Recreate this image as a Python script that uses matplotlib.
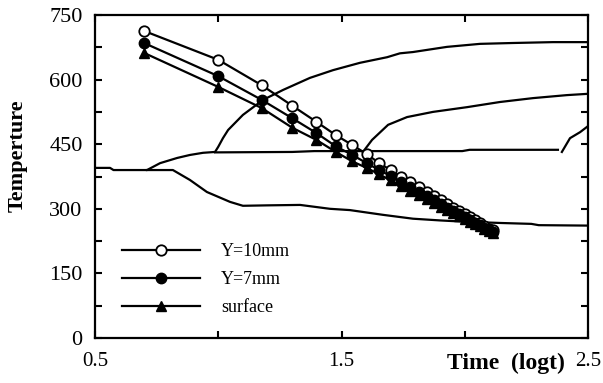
import math
import matplotlib
matplotlib.use("Agg")
import matplotlib.pyplot as plt
from matplotlib.ticker import MultipleLocator

plt.rcParams['font.family'] = ['Liberation Serif', 'DejaVu Serif']

# time samples (s) of the measured series, plotted as log10(t)
times = [5, 10, 15, 20, 25, 30, 35, 40, 45, 50, 55, 60, 65,
         70, 75, 80, 85, 90, 95, 100, 105, 110, 115, 120, 125, 130]
y10mm = [713, 646, 587, 539, 502, 471, 448, 427, 406, 390, 374, 362, 351,
         340, 330, 320, 311, 302, 294, 287, 280, 273, 266, 260, 254, 250]
y7mm = [685, 608, 553, 510, 476, 445, 425, 406, 390, 376, 362, 350, 340,
        330, 321, 312, 303, 295, 288, 281, 274, 268, 262, 256, 251, 247]
surface = [662, 583, 534, 488, 460, 432, 410, 395, 380, 366, 353, 342, 332,
           322, 314, 305, 297, 290, 283, 277, 270, 264, 259, 253, 248, 244]

# unmarked curves, already in log time
curve_a_x = [0.5, 0.561, 0.575, 0.711, 0.764, 0.833, 0.885, 0.938, 0.987, 1.0,
             1.019, 1.04, 1.1, 1.182, 1.263, 1.372, 1.466, 1.575, 1.685, 1.737,
             1.79, 1.928, 2.062, 2.196, 2.358, 2.5]
curve_a_y = [395, 395, 390, 390, 406, 418, 425, 430, 432, 444,
             464, 483, 518, 553, 576, 604, 622, 639, 652, 661,
             664, 676, 683, 685, 687, 687]
curve_b_x = [0.987, 1.3, 1.39, 1.99, 2.02, 2.378]
curve_b_y = [431, 432, 434, 434, 437, 437]
curve_c_x = [2.394, 2.427, 2.468, 2.5]
curve_c_y = [432, 464, 478, 492]
curve_d_x = [1.587, 1.624, 1.689, 1.766, 1.871, 2.009, 2.143, 2.277, 2.415, 2.5]
curve_d_y = [432, 460, 495, 513, 525, 536, 548, 557, 564, 567]
curve_e_x = [0.711, 0.816, 0.885, 0.954, 1.048, 1.1, 1.2, 1.332, 1.453, 1.534,
             1.668, 1.79, 1.9, 2.0, 2.15, 2.27, 2.3, 2.5]
curve_e_y = [390, 390, 367, 339, 316, 307, 308, 309, 300, 297,
             286, 277, 273, 270, 267, 265, 262, 261]

logt = [math.log10(t) for t in times]

fig = plt.figure(figsize=(6.03, 3.83), dpi=100)
ax = fig.add_axes([95 / 603, 1 - 338 / 383, 493 / 603, 323 / 383])

for cx, cy in [(curve_a_x, curve_a_y), (curve_b_x, curve_b_y), (curve_c_x, curve_c_y),
               (curve_d_x, curve_d_y), (curve_e_x, curve_e_y)]:
    ax.plot(cx, cy, color='black', lw=1.6)

ms = 7.5
ax.plot(logt, y10mm, color='black', lw=1.6, marker='o', ms=ms,
        mfc='white', mec='black', mew=1.3, label='Y=10mm')
ax.plot(logt, y7mm, color='black', lw=1.6, marker='o', ms=ms,
        mfc='black', mec='black', label='Y=7mm')
ax.plot(logt, surface, color='black', lw=1.6, marker='^', ms=ms,
        mfc='black', mec='black', label='surface')

ax.set_xlim(0.5, 2.5)
ax.set_ylim(0, 750)
ax.set_xticks([0.5, 1.0, 1.5, 2.0, 2.5])
ax.set_xticklabels(['0.5', '', '1.5', '', '2.5'], fontsize=15)
ax.yaxis.set_major_locator(MultipleLocator(150))
ax.yaxis.set_minor_locator(MultipleLocator(75))
ax.tick_params(axis='y', labelsize=16, pad=9)
ax.tick_params(axis='x', pad=10)
ax.tick_params(which='both', direction='in', length=5, width=1.5,
               top=True, right=True)
for s in ax.spines.values():
    s.set_linewidth(1.6)

fig.text(18 / 603, 1 - 156 / 383, 'Temperture', rotation=90, ha='center',
         va='center', fontsize=16, fontweight='bold')
fig.text(506 / 603, 1 - 363 / 383, 'Time  (logt)', ha='center', va='center',
         fontsize=17, fontweight='bold')

ax.legend(loc='upper left', bbox_to_anchor=(0.04, 0.315), frameon=False,
          fontsize=13, handlelength=4.3, handletextpad=1.2, labelspacing=0.6,
          borderaxespad=0)

fig.savefig('out.png', dpi=100)
